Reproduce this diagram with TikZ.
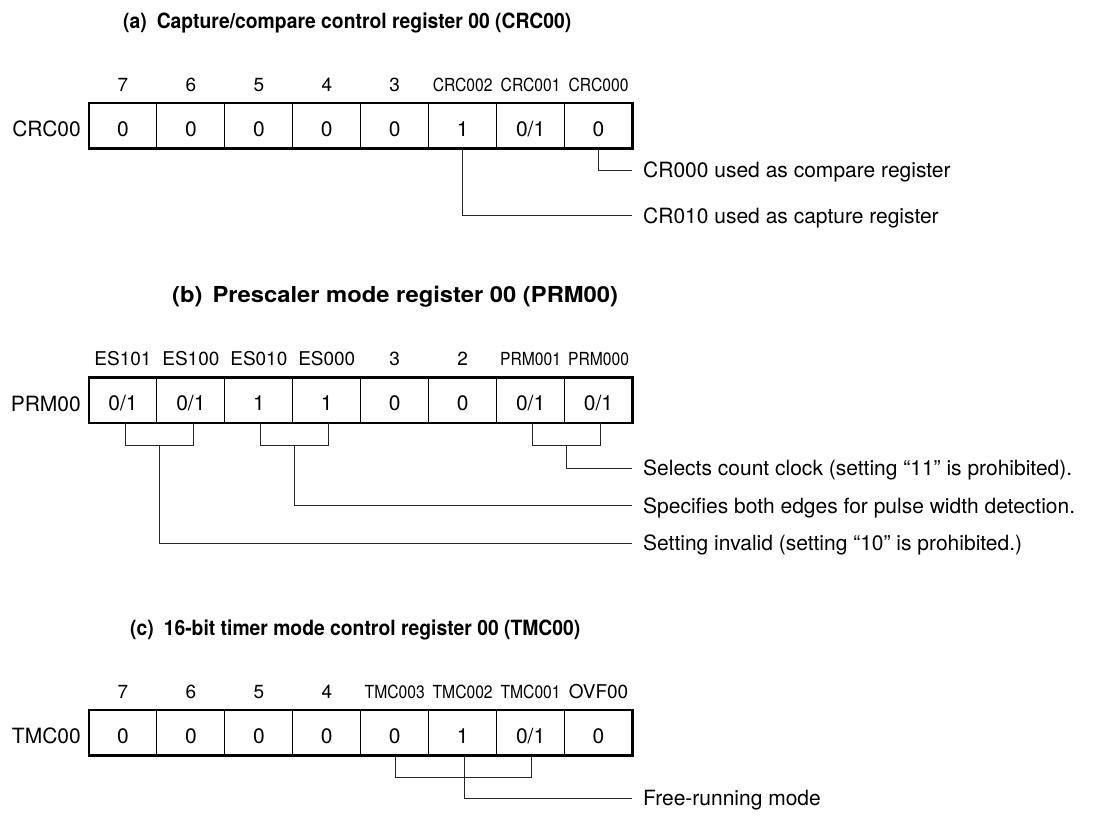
\documentclass[tikz,border=0pt]{standalone}
\usepackage{fontspec}
\setmainfont{TeX Gyre Heros}
\newfontfamily\narrowfont[FakeStretch=0.87]{TeX Gyre Heros}
\newfontfamily\titlefont[FakeStretch=0.92]{TeX Gyre Heros}
\newfontfamily\titlefontb[FakeStretch=1.08]{TeX Gyre Heros}
\usetikzlibrary{calc}
\begin{document}
\begin{tikzpicture}[x=1pt,y=-1pt,
  cell/.style={draw=black, line width=0.9pt, minimum width=67.94pt, minimum height=45.5pt,
    inner sep=0pt, outer sep=0pt, anchor=north west, text height=21pt, text depth=0pt,
    font=\fontsize{21}{24}\selectfont},
  bitlbl/.style={font=\fontsize{19}{22}\selectfont, anchor=base, inner sep=0pt},
  nbit/.style={font=\narrowfont\fontsize{18}{22}\selectfont, anchor=base, inner sep=0pt},
  regname/.style={font=\fontsize{21}{24}\selectfont, anchor=base east, inner sep=0pt},
  title/.style={font=\titlefont\bfseries\fontsize{21}{24}\selectfont, anchor=base west, inner sep=0pt},
  titleb/.style={font=\titlefontb\bfseries\fontsize{22}{25}\selectfont, anchor=base west, inner sep=0pt},
  desc/.style={font=\fontsize{21}{24}\selectfont, anchor=west, inner sep=0pt, text height=15pt, text depth=0pt},
  conn/.style={draw=black!85, line width=1pt},
  frame/.style={draw=black, line width=2.6pt}
]
\useasboundingbox (0,0) rectangle (1103,815);

% ---------------- (a) ----------------
\node[title] (ta) at (123,28) {(a)\hspace{10pt}Capture/compare control register 00 (CRC00)};
\foreach \i/\v in {1/0,2/0,3/0,4/0,5/0,6/1,7/0\slash 1,8/0}{
  \node[cell] (a\i) at ({89+(\i-1)*67.94},103) {\v};
}
\draw[frame] (a1.north west) rectangle (a8.south east);
\node[regname] (na) at ($(a1.north west)+(-8,33.7)$) {CRC00};
\foreach \i/\t in {1/7,2/6,3/5,4/4,5/3}{
  \node[bitlbl] (ab\i) at ($(a\i.north)+(0,-12)$) {\t};
}
\node[nbit] (ab6) at ($(a6.north)+(0,-12)$) {CRC002};
\node[nbit] (ab7) at ($(a7.north)+(0,-12)$) {CRC001};
\node[nbit] (ab8) at ($(a8.north)+(0,-12)$) {CRC000};
\node[desc] (da1) at (643,170) {CR000 used as compare register};
\node[desc] (da2) at (643,215.7) {CR010 used as capture register};
\draw[conn] (a8.south) |- ($(da1.west)+(-11,0)$);
\draw[conn] (a6.south) |- ($(da2.west)+(-11,0)$);

% ---------------- (b) ----------------
\node[titleb] (tb) at (172,302.5) {(b)\hspace{10pt}Prescaler mode register 00 (PRM00)};
\foreach \i/\v in {1/0\slash 1,2/0\slash 1,3/1,4/1,5/0,6/0,7/0\slash 1,8/0\slash 1}{
  \node[cell] (b\i) at ({89+(\i-1)*67.94},377.5) {\v};
}
\draw[frame] (b1.north west) rectangle (b8.south east);
\node[regname] (nb) at ($(b1.north west)+(-8,33.7)$) {PRM00};
\node[bitlbl] (bb1) at ($(b1.north)+(0,-12)$) {ES101};
\node[bitlbl] (bb2) at ($(b2.north)+(0,-12)$) {ES100};
\node[bitlbl] (bb3) at ($(b3.north)+(0,-12)$) {ES010};
\node[bitlbl] (bb4) at ($(b4.north)+(0,-12)$) {ES000};
\node[bitlbl] (bb5) at ($(b5.north)+(0,-12)$) {3};
\node[bitlbl] (bb6) at ($(b6.north)+(0,-12)$) {2};
\node[nbit] (bb7) at ($(b7.north)+(0,-12)$) {PRM001};
\node[nbit] (bb8) at ($(b8.north)+(0,-12)$) {PRM000};
\node[desc] (db1) at (643,468.3) {Selects count clock (setting “11” is prohibited).};
\node[desc] (db2) at (643,505.8) {Specifies both edges for pulse width detection.};
\node[desc] (db3) at (643,543.3) {Setting invalid (setting “10” is prohibited.)};
% brackets
\draw[conn] ($(b1.south)+(3,0)$) -- ++(0,22.5) -| ($(b2.south)+(3,0)$);
\draw[conn] ($(b3.south)+(1.5,0)$) -- ++(0,22.5) -| ($(b4.south)+(1.5,0)$);
\draw[conn] ($(b7.south)+(2,0)$) -- ++(0,22.5) -| ($(b8.south)+(2,0)$);
\draw[conn] ($(b7.south east)+(2,22.5)$) |- ($(db1.west)+(-11,0)$);
\draw[conn] ($(b3.south east)+(1.5,22.5)$) |- ($(db2.west)+(-11,0)$);
\draw[conn] ($(b1.south east)+(3,22.5)$) |- ($(db3.west)+(-11,0)$);

% ---------------- (c) ----------------
\node[title] (tc) at (130,635) {(c)\hspace{10pt}16-bit timer mode control register 00 (TMC00)};
\foreach \i/\v in {1/0,2/0,3/0,4/0,5/0,6/1,7/0\slash 1,8/0}{
  \node[cell] (c\i) at ({89+(\i-1)*67.94},710) {\v};
}
\draw[frame] (c1.north west) rectangle (c8.south east);
\node[regname] (nc) at ($(c1.north west)+(-8,33.7)$) {TMC00};
\foreach \i/\t in {1/7,2/6,3/5,4/4}{
  \node[bitlbl] (cb\i) at ($(c\i.north)+(0,-12)$) {\t};
}
\node[nbit] (cb5) at ($(c5.north)+(0,-12)$) {TMC003};
\node[nbit] (cb6) at ($(c6.north)+(0,-12)$) {TMC002};
\node[nbit] (cb7) at ($(c7.north)+(0,-12)$) {TMC001};
\node[bitlbl] (cb8) at ($(c8.north)+(0,-12)$) {OVF00};
\node[desc] (dc1) at (643,798) {Free-running mode};
\draw[conn] ($(c5.south)+(1,0)$) -- ++(0,22.3) -| ($(c7.south)+(1,0)$);
\draw[conn] ($(c6.south)+(1.5,0)$) -- ($(c6.south)+(1.5,22.3)$) |- ($(dc1.west)+(-11,0)$);
\end{tikzpicture}
\end{document}
